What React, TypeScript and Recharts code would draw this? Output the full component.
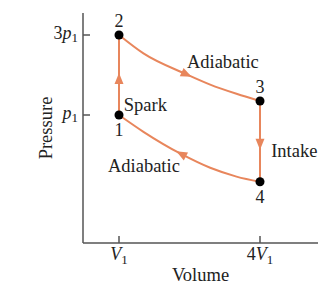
import {
  ComposedChart,
  Label,
  LabelList,
  Line,
  ReferenceDot,
  Scatter,
  XAxis,
  YAxis,
} from "recharts";

// values in units of V1 and p1 (schematic scale)
const spark = [
  { v: 1, p: 1 },
  { v: 1, p: 1.9, arrow: true },
  { v: 1, p: 3 },
];
const expansion = [
  { v: 1, p: 3 },
  { v: 1.52, p: 2.54 },
  { v: 2.43, p: 2.02, arrow: true },
  { v: 2.94, p: 1.76 },
  { v: 3.5, p: 1.53 },
  { v: 4, p: 1.35 },
];
const intake = [
  { v: 4, p: 1.35 },
  { v: 4, p: 0.28, arrow: true },
  { v: 4, p: -0.67 },
];
const compression = [
  { v: 4, p: -0.67 },
  { v: 3.5, p: -0.54 },
  { v: 2.94, p: -0.32 },
  { v: 2.33, p: 0.02, arrow: true },
  { v: 1.52, p: 0.58 },
  { v: 1, p: 1 },
];

const upperStates = [
  { name: "2", v: 1, p: 3 },
  { name: "3", v: 4, p: 1.35 },
];
const lowerStates = [
  { name: "1", v: 1, p: 1 },
  { name: "4", v: 4, p: -0.67 },
];

const notes = [
  { text: "Spark", v: 1.56, p: 1.27 },
  { text: "Adiabatic", v: 3.21, p: 2.33 },
  { text: "Intake", v: 4.73, p: 0.12 },
  { text: "Adiabatic", v: 1.53, p: -0.25 },
];

const xTicks = [1, 4];
const xTickCoef = ["", "4"];
const yTicks = [1, 3];
const yTickCoef = ["", "3"];

const ORANGE = "#e8865c";
const AXIS = "#555";
const INK = "#222";
const FONT = "'Liberation Serif', 'Times New Roman', serif";

function ArrowDot(props: any) {
  const { cx, cy, index, points, payload } = props;
  if (!payload || !payload.arrow || !points) return <g key={"d" + index} />;
  const a = points[index - 1];
  const b = points[index + 1];
  const ang = (Math.atan2(b.y - a.y, b.x - a.x) * 180) / Math.PI;
  return (
    <polygon
      key={"d" + index}
      points="6,0 -5,-4.5 -5,4.5"
      fill={ORANGE}
      transform={`translate(${cx},${cy}) rotate(${ang})`}
    />
  );
}

function XTick({ x, y, payload }: any) {
  const i = xTicks.indexOf(payload.value);
  return (
    <g>
      <line x1={x} x2={x} y1={y} y2={y - 7} stroke={AXIS} strokeWidth={1.5} />
      <text x={x} y={y + 17} textAnchor="middle" fill={INK} fontSize={18} fontFamily={FONT}>
        <tspan>{xTickCoef[i]}</tspan>
        <tspan fontStyle="italic">V</tspan>
        <tspan fontSize={13} dy={4}>1</tspan>
      </text>
    </g>
  );
}

function YTick({ x, y, payload }: any) {
  const i = yTicks.indexOf(payload.value);
  return (
    <g>
      <line x1={x} x2={x + 7} y1={y} y2={y} stroke={AXIS} strokeWidth={1.5} />
      <text x={x - 5} y={y + 4} textAnchor="end" fill={INK} fontSize={18} fontFamily={FONT}>
        <tspan>{yTickCoef[i]}</tspan>
        <tspan fontStyle="italic">p</tspan>
        <tspan fontSize={13} dy={3}>1</tspan>
      </text>
    </g>
  );
}

export default function App() {
  const lineProps = {
    stroke: ORANGE,
    strokeWidth: 2,
    dot: ArrowDot,
    activeDot: false as const,
    isAnimationActive: false,
    dataKey: "p",
  };
  return (
    <ComposedChart
      width={323}
      height={279}
      margin={{ top: 5, right: 13, left: 0, bottom: 0 }}
      style={{ fontFamily: FONT }}
    >
      <XAxis
        type="number"
        dataKey="v"
        domain={[0.234, 5.234]}
        ticks={xTicks}
        allowDataOverflow
        height={44}
        tickSize={0}
        tickMargin={0}
        tick={<XTick />}
        axisLine={{ stroke: AXIS, strokeWidth: 1.5 }}
      >
        <Label value="Volume" position="insideBottom" offset={6} fill={INK} fontSize={18.5} />
      </XAxis>
      <YAxis
        type="number"
        dataKey="p"
        domain={[-2.2, 3.55]}
        ticks={yTicks}
        allowDataOverflow
        width={75}
        tickSize={0}
        tickMargin={0}
        tick={<YTick />}
        axisLine={{ stroke: AXIS, strokeWidth: 1.5 }}
      >
        <Label value="Pressure" position="center" angle={-90} fill={INK} fontSize={18.5} />
      </YAxis>

      <Line {...lineProps} data={spark} type="linear" />
      <Line {...lineProps} data={expansion} type="monotone" />
      <Line {...lineProps} data={intake} type="linear" />
      <Line {...lineProps} data={compression} type="monotone" />

      <Scatter data={upperStates} dataKey="p" fill="#000" isAnimationActive={false}>
        <LabelList dataKey="name" position="top" offset={3} fill={INK} fontSize={18} />
      </Scatter>
      <Scatter data={lowerStates} dataKey="p" fill="#000" isAnimationActive={false}>
        <LabelList dataKey="name" position="bottom" offset={4} fill={INK} fontSize={18} />
      </Scatter>

      {notes.map((n, i) => (
        <ReferenceDot
          key={i}
          x={n.v}
          y={n.p}
          r={0}
          fill="none"
          stroke="none"
          label={{ value: n.text, position: "center", fill: INK, fontSize: 18.5 }}
        />
      ))}
    </ComposedChart>
  );
}
